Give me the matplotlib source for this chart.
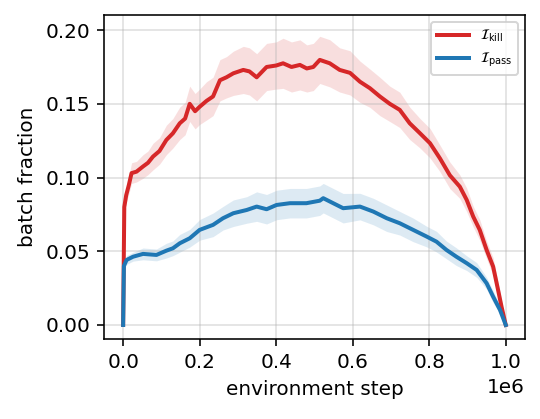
import matplotlib
matplotlib.use("Agg")
import matplotlib.pyplot as plt
import numpy as np

# red series: I_kill (x in 1e6 units of environment step)
kill_x = [0.0, 0.003, 0.008, 0.015, 0.022, 0.035, 0.052, 0.065, 0.078, 0.095, 0.113, 0.13, 0.148,
          0.162, 0.174, 0.188, 0.2, 0.218, 0.235, 0.253, 0.27, 0.288, 0.314, 0.33, 0.349,
          0.375, 0.4, 0.418, 0.44, 0.462, 0.48, 0.497, 0.514, 0.54, 0.566, 0.593, 0.619,
          0.645, 0.671, 0.697, 0.723, 0.749, 0.776, 0.802, 0.828, 0.854, 0.88, 0.898,
          0.915, 0.932, 0.95, 0.967, 0.98, 0.989, 1.0]
kill_y = [0.0, 0.080, 0.088, 0.095, 0.103, 0.104, 0.1075, 0.110, 0.1142, 0.118, 0.1255, 0.130, 0.1368,
          0.140, 0.150, 0.145, 0.148, 0.152, 0.155, 0.166, 0.168, 0.1707, 0.173, 0.172, 0.168,
          0.175, 0.176, 0.1775, 0.175, 0.1764, 0.174, 0.175, 0.1798, 0.1775, 0.173, 0.171, 0.165,
          0.1606, 0.155, 0.150, 0.1459, 0.1368, 0.130, 0.1233, 0.113, 0.1015, 0.0938, 0.0848,
          0.0735, 0.0645, 0.0509, 0.0396, 0.0237, 0.0124, 0.0]
kill_sd = [0.0, 0.004, 0.005, 0.006, 0.007, 0.007, 0.008, 0.008, 0.009, 0.009, 0.010, 0.010, 0.011,
           0.011, 0.012, 0.012, 0.012, 0.013, 0.013, 0.014, 0.014, 0.015, 0.016, 0.016, 0.016,
           0.016, 0.016, 0.017, 0.017, 0.017, 0.016, 0.016, 0.016, 0.016, 0.015, 0.015, 0.014,
           0.013, 0.013, 0.012, 0.012, 0.011, 0.010, 0.010, 0.009, 0.009, 0.008, 0.008,
           0.007, 0.007, 0.006, 0.006, 0.005, 0.004, 0.0]

# blue series: I_pass
pass_x = [0.0, 0.002, 0.009, 0.026, 0.052, 0.087, 0.113, 0.13, 0.148, 0.174, 0.2, 0.235, 0.261,
          0.288, 0.323, 0.349, 0.375, 0.401, 0.436, 0.462, 0.479, 0.514, 0.523, 0.549, 0.575,
          0.619, 0.654, 0.689, 0.723, 0.758, 0.793, 0.819, 0.845, 0.871, 0.898, 0.924, 0.95,
          0.967, 0.985, 1.0]
pass_y = [0.0, 0.040, 0.0441, 0.0463, 0.0482, 0.0475, 0.0504, 0.052, 0.0554, 0.0588, 0.0645, 0.0679, 0.0724,
          0.0758, 0.078, 0.0803, 0.0785, 0.0814, 0.0826, 0.0826, 0.0826, 0.0843, 0.086, 0.0826, 0.0792,
          0.0803, 0.0769, 0.0724, 0.069, 0.0645, 0.060, 0.0565, 0.0509, 0.0463, 0.0419, 0.0373, 0.0283,
          0.0192, 0.0102, 0.0]
pass_sd = [0.0, 0.002, 0.003, 0.003, 0.004, 0.004, 0.005, 0.005, 0.006, 0.006, 0.007, 0.008, 0.008,
           0.009, 0.009, 0.010, 0.010, 0.010, 0.010, 0.010, 0.010, 0.010, 0.010, 0.010, 0.010,
           0.009, 0.009, 0.009, 0.008, 0.008, 0.007, 0.007, 0.006, 0.006, 0.005, 0.005, 0.004,
           0.004, 0.003, 0.0]

red = "#d62728"
blue = "#1f77b4"

DPI = 144
fig = plt.figure(figsize=(540 / DPI, 419 / DPI), dpi=DPI)
ax = fig.add_axes([0.1926, 0.191, 0.7794, 0.773])

kx = np.array(kill_x) * 1e6
px = np.array(pass_x) * 1e6
ky, ks = np.array(kill_y), np.array(kill_sd)
py_, ps = np.array(pass_y), np.array(pass_sd)

ax.fill_between(kx, ky - ks, ky + ks, color=red, alpha=0.15, lw=0)
ax.fill_between(px, py_ - ps, py_ + ps, color=blue, alpha=0.15, lw=0)
ax.plot(kx, ky, color=red, lw=2, label=r"$\mathcal{I}_{\mathrm{kill}}$")
ax.plot(px, py_, color=blue, lw=2, label=r"$\mathcal{I}_{\mathrm{pass}}$")

ax.set_ylim(-0.0095, 0.2102)
ax.set_xlim(-0.05e6, 1.05e6)
ax.set_yticks([0.0, 0.05, 0.10, 0.15, 0.20])
ax.set_xticks([0, 0.2e6, 0.4e6, 0.6e6, 0.8e6, 1.0e6])
ax.grid(True, color="#b0b0b0", alpha=0.4)
ax.set_xlabel("environment step")
ax.set_ylabel("batch fraction")
ax.legend(loc="upper right", fontsize=7, handlelength=2.3)

fig.savefig("out.png", dpi=DPI)
